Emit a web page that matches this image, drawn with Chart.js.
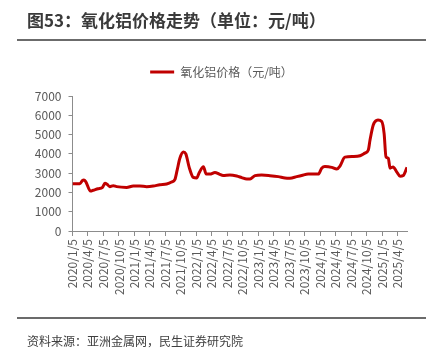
<!DOCTYPE html>
<html><head><meta charset="utf-8">
<script src="https://cdn.jsdelivr.net/npm/chart.js@4/dist/chart.umd.min.js"></script>
<style>
html,body{margin:0;padding:0;background:#fff;}
#wrap{position:relative;width:438px;height:357px;overflow:hidden;font-family:"Noto Sans CJK SC","Noto Sans",sans-serif;}
#c{position:absolute;left:0;top:0;}
.title{position:absolute;left:27px;top:7px;font-size:17px;font-weight:bold;color:#3a3a3a;white-space:nowrap;}
.rule{position:absolute;left:17px;width:409px;height:2px;background:#6b6b6b;}
.src{position:absolute;left:27px;top:332px;font-size:12px;color:#404040;white-space:nowrap;}
</style></head>
<body><div id="wrap">
<canvas id="c" width="438" height="357"></canvas>
<div class="title">图53：氧化铝价格走势（单位：元/吨）</div>
<div class="rule" style="top:39px"></div>
<div class="rule" style="top:317px"></div>
<div class="src">资料来源：亚洲金属网，民生证券研究院</div>
</div>
<script>
const seriesName = '氧化铝价格（元/吨）';
const dates = ['2020-01-05','2020-02-17','2020-03-04','2020-03-12','2020-03-23','2020-04-20','2020-05-06','2020-06-04','2020-06-30','2020-07-14','2020-07-27','2020-08-12','2020-09-01','2020-09-21','2020-11-19','2020-12-28','2021-02-05','2021-03-17','2021-04-25','2021-06-03','2021-07-13','2021-08-11','2021-08-31','2021-09-13','2021-09-29','2021-10-20','2021-11-03','2021-11-23','2021-12-17','2022-01-06','2022-01-21','2022-02-15','2022-03-03','2022-03-25','2022-04-24','2022-05-19','2022-06-11','2022-07-21','2022-08-30','2022-09-28','2022-10-28','2022-11-16','2022-12-16','2023-01-24','2023-03-14','2023-05-02','2023-06-11','2023-07-10','2023-08-19','2023-09-17','2023-10-26','2023-12-24','2024-01-13','2024-02-01','2024-03-12','2024-04-11','2024-04-30','2024-05-29','2024-07-17','2024-08-26','2024-09-24','2024-10-14','2024-10-24','2024-11-12','2024-12-02','2024-12-10','2025-01-01','2025-01-15','2025-01-26','2025-02-09','2025-02-19','2025-03-09','2025-03-30','2025-04-19','2025-05-08','2025-05-30'];
const prices = [2450,2450,2620,2640,2560,2070,2110,2190,2260,2470,2420,2300,2350,2300,2260,2330,2330,2300,2330,2400,2440,2540,2680,3160,3770,4090,4000,3300,2780,2750,3020,3330,2950,2950,3030,2950,2880,2900,2850,2770,2690,2700,2870,2900,2870,2820,2750,2740,2820,2880,2960,2950,3250,3340,3300,3210,3370,3830,3860,3900,4040,4200,4720,5500,5740,5750,5680,5060,3850,3770,3260,3320,3070,2840,2880,3300];
const tickLabels = ['2020/1/5','2020/4/5','2020/7/5','2020/10/5','2021/1/5','2021/4/5','2021/7/5','2021/10/5','2022/1/5','2022/4/5','2022/7/5','2022/10/5','2023/1/5','2023/4/5','2023/7/5','2023/10/5','2024/1/5','2024/4/5','2024/7/5','2024/10/5','2025/1/5','2025/4/5'];
const yTicks = [0,1000,2000,3000,4000,5000,6000,7000];

const DAY = 86400000;
function toDay(s){const p=s.split(/[-\/]/).map(Number);return Date.UTC(p[0],p[1]-1,p[2])/DAY;}
const d0 = toDay(dates[0]);
const pts = dates.map((d,i)=>({x:toDay(d)-d0,y:prices[i]}));
const tickPos = tickLabels.map(t=>toDay(t)-d0);
const FONT = '"Noto Sans CJK SC","Noto Sans",sans-serif';
const AX = '#8c8c8c';

const legendTweak = {
  id:'legendTweak',
  afterInit(chart){
    const lg = chart.legend; if(!lg || lg._patched) return;
    const fit = lg.fit.bind(lg);
    lg.fit = function(){ fit(); this.height += 8; };
    lg._patched = true;
  },
  afterLayout(chart){
    const lg = chart.legend; if(!lg) return;
    const dx = 18; lg.left += dx; lg.right += dx;
  }
};

new Chart(document.getElementById('c'),{
  type:'line',
  data:{datasets:[{label:seriesName,data:pts,borderColor:'#C00000',backgroundColor:'#C00000',borderWidth:3,pointRadius:0,cubicInterpolationMode:'monotone',fill:false}]},
  plugins:[legendTweak],
  options:{
    responsive:false,animation:false,
    layout:{padding:{left:0,right:31,top:44,bottom:56}},
    plugins:{
      legend:{display:true,position:'top',labels:{boxWidth:24,boxHeight:3,padding:22,color:'#595959',font:{family:FONT,size:12},
        generateLabels:(chart)=>Chart.defaults.plugins.legend.labels.generateLabels(chart).map(l=>Object.assign(l,{lineWidth:0}))}},
      tooltip:{enabled:false}
    },
    scales:{
      x:{type:'linear',min:0,max:pts[pts.length-1].x,
        afterBuildTicks:s=>{s.ticks=tickPos.map(v=>({value:v}));},
        afterFit:s=>{s.height=70;},
        ticks:{autoSkip:false,minRotation:90,maxRotation:90,padding:3,color:'#595959',font:{family:FONT,size:12},
          callback:(v,i)=>tickLabels[i]},
        grid:{display:true,drawOnChartArea:false,drawTicks:true,tickLength:5,color:AX},
        border:{display:true,color:AX,width:1}
      },
      y:{min:0,max:7000,
        afterBuildTicks:s=>{s.ticks=yTicks.map(v=>({value:v}));},
        afterFit:s=>{s.width=72.5;},
        ticks:{padding:7,color:'#595959',font:{family:FONT,size:12},callback:v=>String(v)},
        grid:{display:true,drawOnChartArea:false,drawTicks:true,tickLength:4,color:AX},
        border:{display:true,color:AX,width:1}
      }
    }
  }
});
</script>
</body></html>
